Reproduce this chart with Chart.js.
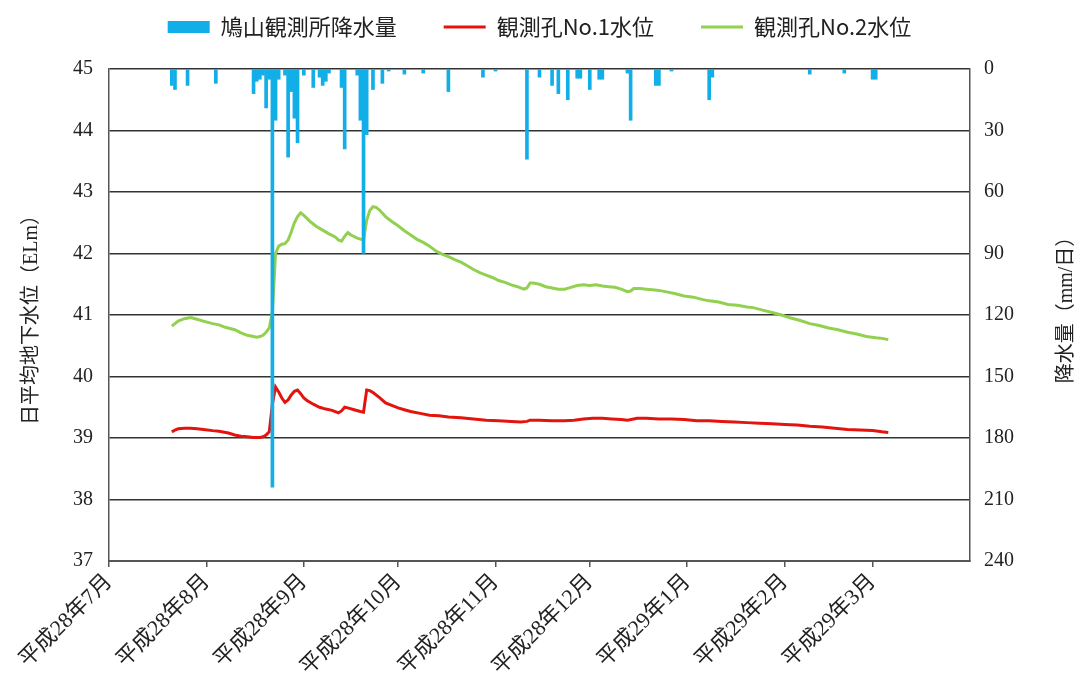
<!DOCTYPE html>
<html><head><meta charset="utf-8">
<script src="https://cdn.jsdelivr.net/npm/chart.js@4.4.1/dist/chart.umd.min.js"></script>
<style>html,body{margin:0;padding:0;background:#fff;}#wrap{width:1079px;height:680px;}</style>
</head><body><div id="wrap"><canvas id="c" width="1079" height="680"></canvas></div>
<script>
// x values are days since 2016-07-01 (平成28年7月1日)
const monthStartDays = [0, 31, 62, 92, 123, 153, 184, 215, 243];
const monthLabels = ["平成28年7月","平成28年8月","平成28年9月","平成28年10月","平成28年11月","平成28年12月","平成29年1月","平成29年2月","平成29年3月"];

const precipDays = [20,21,25,34,46,47,48,49,50,51,52,53,54,56,57,58,59,60,62,65,67,68,69,70,74,75,79,80,81,82,84,87,89,94,100,108,119,123,133,137,141,143,146,149,150,153,156,157,165,166,174,175,179,191,192,223,234,243,244];
const precipMm   = [8,10,8,7,12,6,5,3,19,5,204,25,5,3,43,11,24,36,3,9,4,8,6,2,9,39,3,25,90,32,10,7,1,2.5,2,11,4,1,44,4,8,12,15,4.5,4.5,10,5,5,2,25,8,8,1,15,4,2.5,2,5,5];

const well1Days = [20,21,22,24,26,28,30,33,35,38,40,42,44,46,48,49,50,51,52,53,54,55,56,57,58,59,60,61,62,63,65,67,69,71,72,73,74,75,76,78,80,81,82,83,84,86,88,90,92,94,96,99,102,105,108,112,116,120,124,128,131,133,134,137,141,145,148,151,154,157,160,163,165,167,168,171,175,179,183,187,191,195,199,203,207,211,215,219,223,227,231,235,239,243,246,248];
const well1Levels = [39.10,39.13,39.15,39.16,39.16,39.15,39.14,39.12,39.11,39.08,39.05,39.03,39.02,39.01,39.01,39.02,39.05,39.10,39.55,39.83,39.75,39.65,39.58,39.62,39.70,39.76,39.78,39.72,39.65,39.61,39.55,39.50,39.47,39.45,39.43,39.41,39.44,39.50,39.49,39.46,39.43,39.42,39.78,39.77,39.74,39.66,39.57,39.53,39.49,39.46,39.43,39.40,39.37,39.36,39.34,39.33,39.31,39.29,39.28,39.27,39.26,39.27,39.29,39.29,39.28,39.28,39.29,39.31,39.32,39.32,39.31,39.30,39.29,39.31,39.32,39.32,39.31,39.31,39.30,39.28,39.28,39.27,39.26,39.25,39.24,39.23,39.22,39.21,39.19,39.18,39.16,39.14,39.13,39.12,39.10,39.09];

const well2Days = [20,22,24,26,28,30,33,35,37,40,42,44,46,47,48,49,50,51,52,53,54,55,56,57,58,59,60,61,62,63,64,66,68,70,72,73,74,75,76,77,79,81,82,83,84,85,86,88,90,92,94,96,98,100,102,104,106,108,110,112,114,116,118,120,122,124,126,128,130,132,133,134,135,137,139,141,143,145,147,149,151,153,155,157,159,161,163,165,166,167,169,171,173,175,177,180,183,186,189,191,194,197,200,203,205,208,211,214,217,220,223,226,229,232,235,238,241,244,246,248];
const well2Levels = [40.82,40.90,40.94,40.96,40.93,40.90,40.86,40.84,40.80,40.76,40.71,40.67,40.65,40.64,40.65,40.67,40.72,40.79,41.05,42.00,42.12,42.15,42.16,42.22,42.35,42.50,42.60,42.66,42.62,42.57,42.52,42.44,42.38,42.32,42.27,42.22,42.20,42.28,42.34,42.30,42.25,42.22,42.54,42.70,42.76,42.75,42.71,42.60,42.52,42.45,42.37,42.30,42.23,42.18,42.12,42.04,41.99,41.95,41.90,41.86,41.80,41.74,41.69,41.65,41.61,41.56,41.53,41.49,41.46,41.42,41.44,41.52,41.52,41.50,41.46,41.44,41.42,41.42,41.45,41.48,41.49,41.48,41.49,41.47,41.46,41.45,41.42,41.38,41.39,41.43,41.43,41.42,41.41,41.40,41.38,41.35,41.31,41.29,41.25,41.23,41.21,41.17,41.16,41.13,41.12,41.08,41.04,41.00,40.95,40.91,40.86,40.83,40.79,40.76,40.72,40.69,40.65,40.63,40.62,40.60];

const serif = "'Liberation Serif','Noto Sans CJK JP',serif";
const pts = (xs, ys) => xs.map((x, i) => ({x: x, y: ys[i]}));

const rightTitle = {
  id: 'rightTitle',
  afterDraw(chart) {
    const c = chart.ctx;
    c.save();
    c.translate(1067, 305);
    c.rotate(-Math.PI / 2);
    c.font = "20px " + serif;
    c.fillStyle = '#222';
    c.textAlign = 'center';
    c.textBaseline = 'middle';
    c.fillText('降水量（mm/日）', 0, 0);
    c.restore();
  }
};

new Chart(document.getElementById('c'), {
  type: 'bar',
  data: {
    datasets: [
      { type: 'bar', label: '鳩山観測所降水量', data: pts(precipDays, precipMm), yAxisID: 'y2',
        backgroundColor: '#12AEE8', borderWidth: 0, barThickness: 3, pointStyle: 'rect' },
      { type: 'line', label: '観測孔No.1水位', data: pts(well1Days, well1Levels), yAxisID: 'y',
        borderColor: '#E3140E', backgroundColor: '#E3140E', borderWidth: 3, pointRadius: 0, tension: 0, pointStyle: 'line' },
      { type: 'line', label: '観測孔No.2水位', data: pts(well2Days, well2Levels), yAxisID: 'y',
        borderColor: '#92D050', backgroundColor: '#92D050', borderWidth: 3, pointRadius: 0, tension: 0, pointStyle: 'line' }
    ]
  },
  options: {
    responsive: false,
    animation: false,
    layout: { padding: { top: -31, left: 0, right: 0, bottom: 0 } },
    plugins: {
      tooltip: { enabled: false },
      legend: {
        position: 'top',
        labels: {
          usePointStyle: true, pointStyleWidth: 42, boxHeight: 12,
          font: { size: 22, family: "'Noto Sans CJK JP','Liberation Serif',sans-serif" },
          color: '#222', padding: 47
        }
      }
    },
    scales: {
      x: {
        type: 'linear', min: 0, max: 274, offset: false,
        afterBuildTicks: s => { s.ticks = monthStartDays.map(v => ({ value: v })); },
        afterFit: s => { s.height = 119; },
        ticks: {
          autoSkip: false, minRotation: 45, maxRotation: 45,
          callback: (v, i) => monthLabels[i],
          font: { size: 22, family: serif }, color: '#222', padding: 2
        },
        grid: { offset: false, drawOnChartArea: false, drawTicks: true, tickLength: 6, color: '#555', lineWidth: 1.5 },
        border: { display: true, color: '#555', width: 2 }
      },
      spacer: {
        type: 'linear', position: 'top', display: true,
        afterFit: s => { s.height = 21; },
        ticks: { display: false },
        grid: { display: false, drawTicks: false },
        border: { display: false }
      },
      y: {
        position: 'left', min: 37, max: 45,
        afterFit: s => { s.width = 109; },
        ticks: { stepSize: 1, font: { size: 20, family: serif }, color: '#222', padding: 16 },
        grid: { color: '#333', lineWidth: 1.5, drawTicks: false },
        border: { display: true, color: '#555', width: 1.5 },
        title: { display: true, text: '日平均地下水位（ELm）', font: { size: 20, family: serif }, color: '#222', padding: { top: 20, bottom: 0 } }
      },
      y2: {
        position: 'right', min: 0, max: 240, reverse: true,
        afterFit: s => { s.width = 109; },
        ticks: { stepSize: 30, font: { size: 20, family: serif }, color: '#222', padding: 14 },
        grid: { drawOnChartArea: false, drawTicks: false },
        border: { display: true, color: '#555', width: 1.5 }
      }
    }
  },
  plugins: [rightTitle]
});
</script>
</body></html>
